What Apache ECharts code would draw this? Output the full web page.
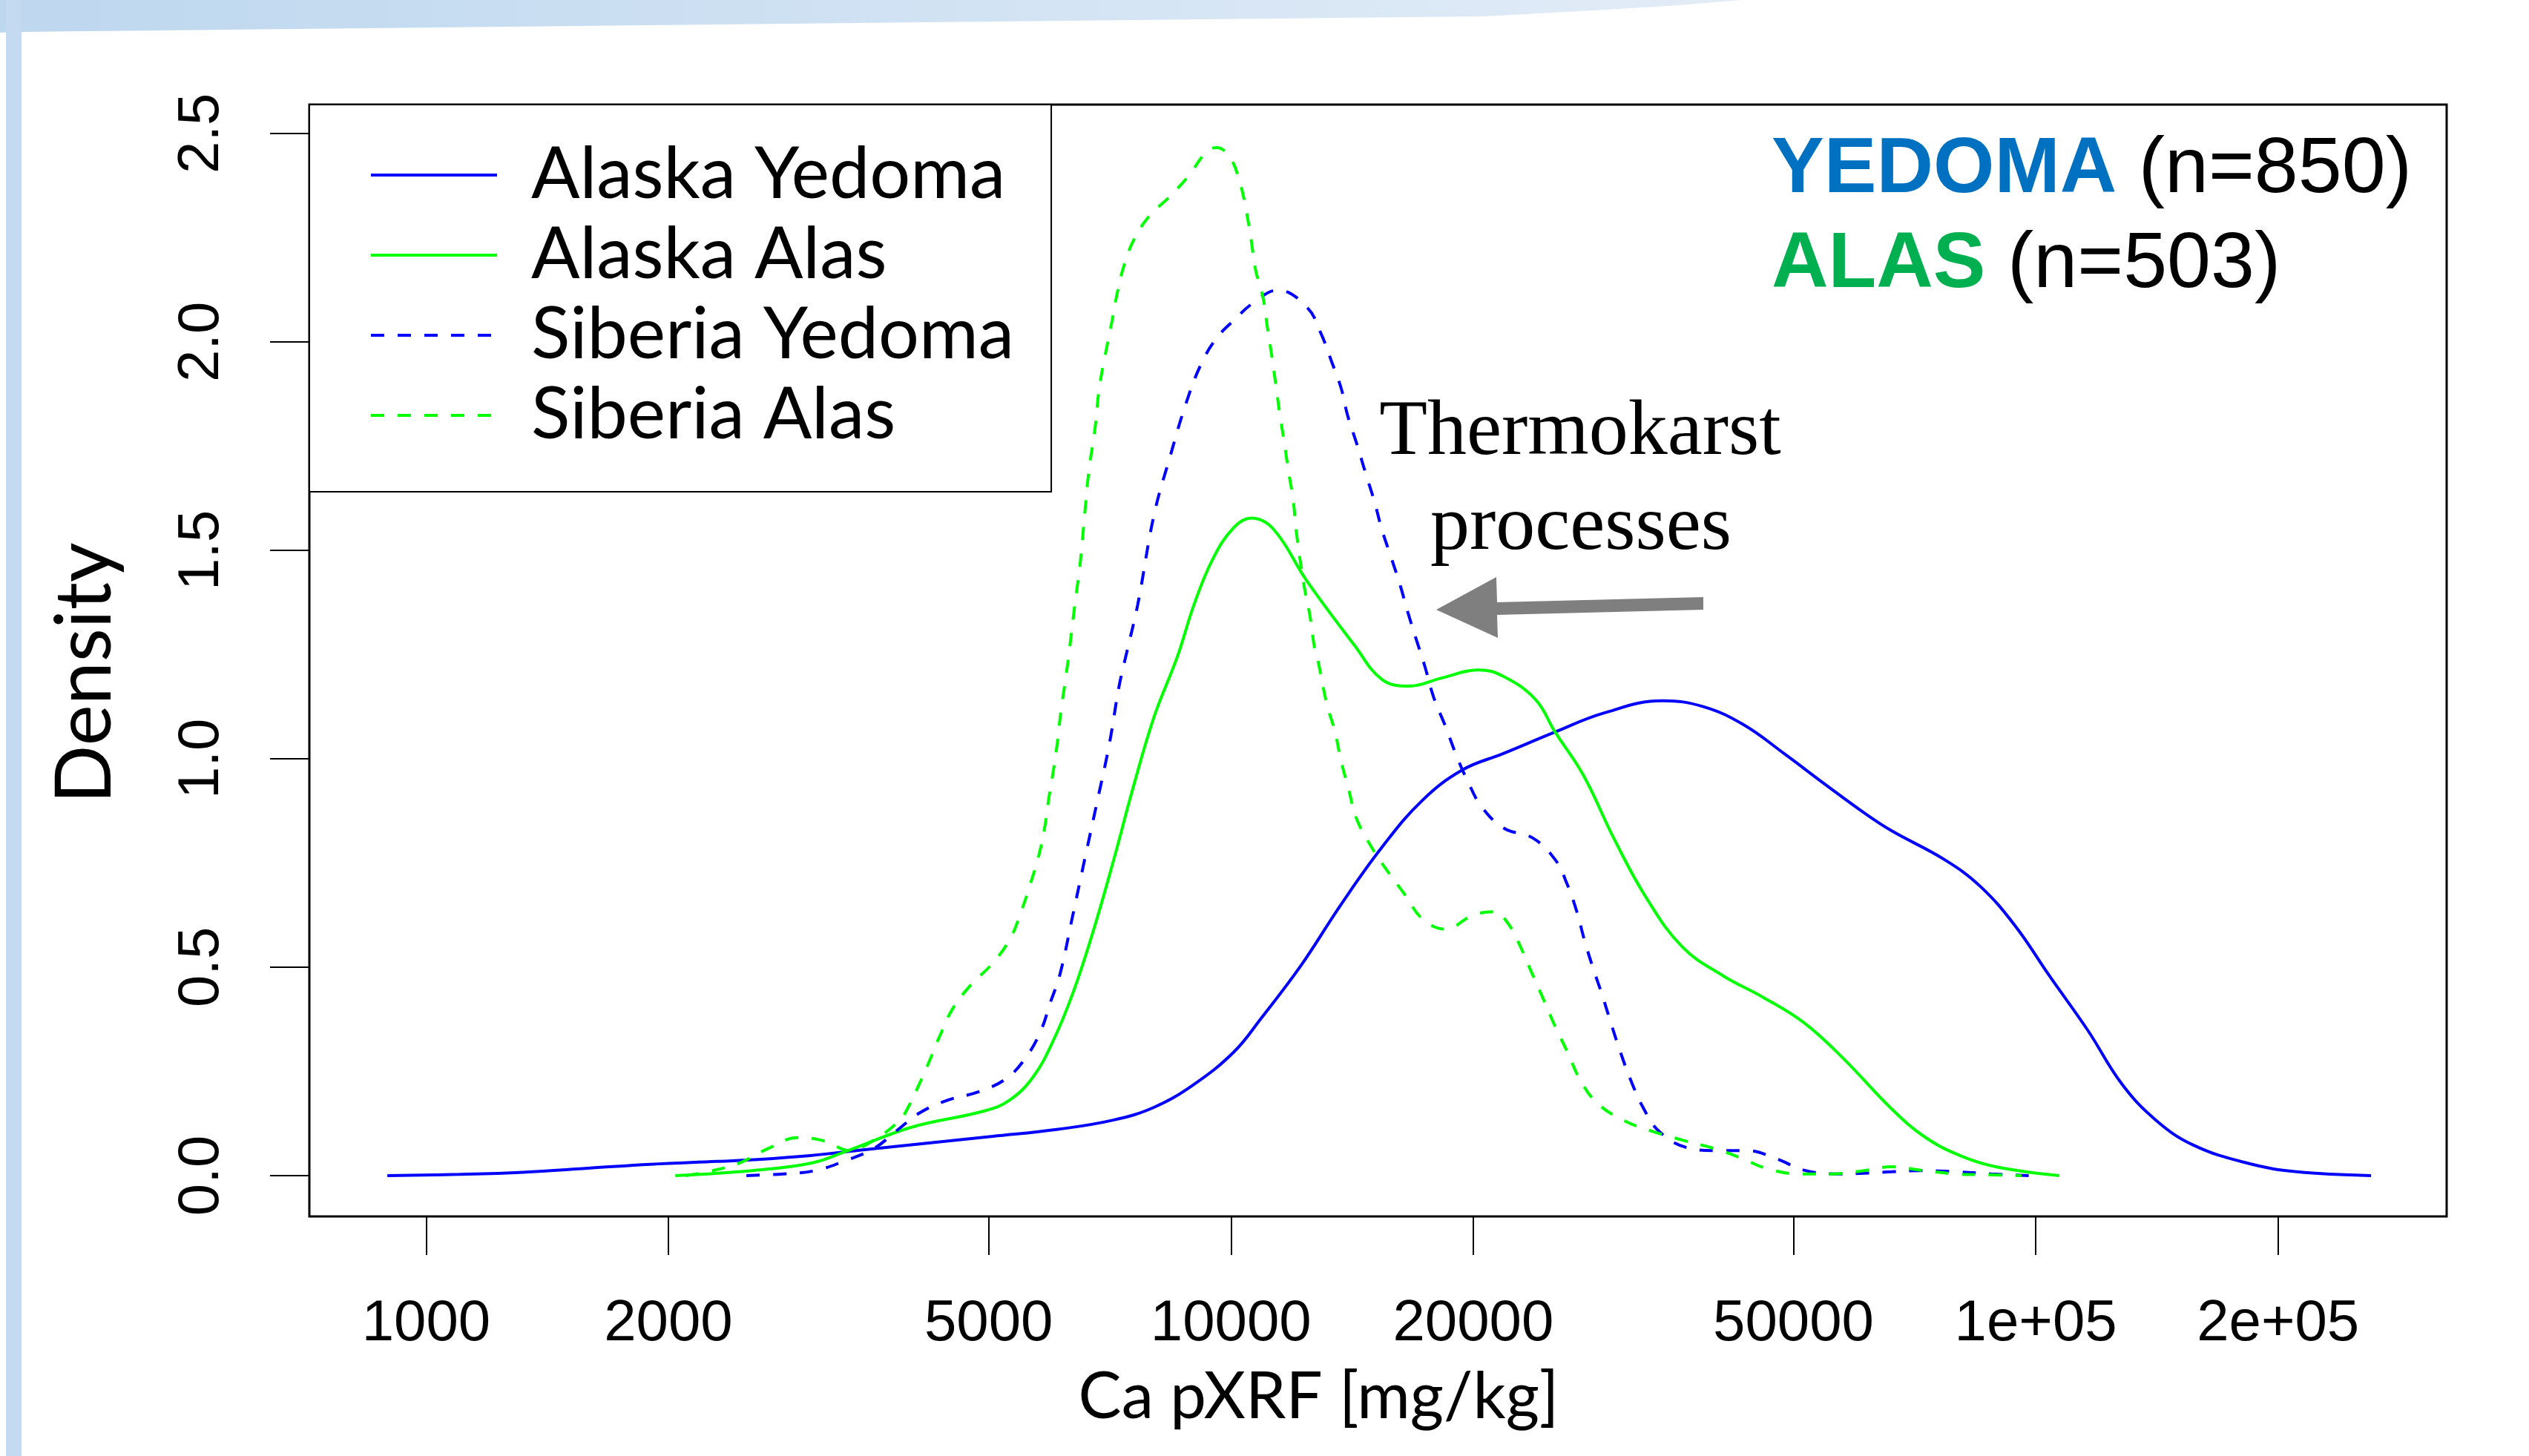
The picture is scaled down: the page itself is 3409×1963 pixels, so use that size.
<!DOCTYPE html>
<html>
<head>
<meta charset="utf-8">
<title>Ca pXRF density</title>
<script src="https://cdn.jsdelivr.net/npm/echarts@6/dist/echarts.min.js"></script>
<style>
  html, body { margin: 0; padding: 0; background: #fff; }
  #chart { width: 3409px; height: 1963px; }
</style>
</head>
<body>
<div id="chart"></div>
<script>
// curves, [Ca pXRF mg/kg, density]
var alaskaYedoma = [
  [895, 0], [1100, 0.003], [1320, 0.008], [1600, 0.018], [1900, 0.027], [2300, 0.034],
  [2550, 0.038], [3000, 0.048], [3580, 0.064], [4300, 0.080], [5060, 0.094], [6100, 0.111],
  [7140, 0.133], [8030, 0.164], [9000, 0.219], [10090, 0.297], [10900, 0.377], [12220, 0.504],
  [13710, 0.651], [15410, 0.788], [17290, 0.900], [19390, 0.973], [21770, 1.012], [25280, 1.064],
  [29000, 1.109], [34400, 1.139], [38600, 1.125], [43300, 1.082], [48700, 1.012], [54600, 0.940],
  [61200, 0.870], [66200, 0.827], [77000, 0.758], [85300, 0.694], [94200, 0.600], [104000, 0.479],
  [116000, 0.349], [128000, 0.219], [141000, 0.133], [157000, 0.073], [183000, 0.030],
  [211000, 0.009], [261000, 0]
];
var alaskaAlas = [
  [2040, 0], [2540, 0.012], [3013, 0.030], [3345, 0.060], [4010, 0.116], [4940, 0.155],
  [5310, 0.181], [5680, 0.237], [6013, 0.323], [6355, 0.435], [6733, 0.582], [7143, 0.754],
  [7550, 0.927], [8025, 1.10], [8580, 1.245], [9000, 1.37], [9500, 1.48], [10090, 1.555],
  [10600, 1.577], [11300, 1.55], [12420, 1.427], [14240, 1.272], [15410, 1.19], [16660, 1.174],
  [18300, 1.194], [20300, 1.213], [21770, 1.198], [23900, 1.142], [25280, 1.064], [27400, 0.961],
  [29960, 0.806], [32800, 0.667], [36400, 0.548], [40900, 0.479], [45900, 0.427], [51500, 0.367],
  [57800, 0.279], [66200, 0.160], [73000, 0.091], [81000, 0.046], [89800, 0.020], [107000, 0]
];
var siberiaYedoma = [
  [2500, 0], [2780, 0.004], [3046, 0.012], [3300, 0.034], [3600, 0.065], [3840, 0.107],
  [4110, 0.151], [4450, 0.181], [4860, 0.201], [5260, 0.233], [5570, 0.285], [5810, 0.349],
  [5960, 0.413], [6130, 0.482], [6355, 0.621], [6580, 0.758], [6820, 0.897], [7060, 1.034],
  [7260, 1.173], [7420, 1.254], [7660, 1.37], [8025, 1.585], [8400, 1.724], [8800, 1.854],
  [9190, 1.948], [9600, 2.009], [10090, 2.052], [10670, 2.094], [11440, 2.124], [12440, 2.082],
  [12950, 2.018], [13340, 1.952], [13710, 1.888], [13960, 1.824], [14340, 1.754], [14720, 1.681],
  [15080, 1.616], [15410, 1.548], [15820, 1.482], [16240, 1.414], [16600, 1.349], [17000, 1.285],
  [17400, 1.224], [17870, 1.146], [18470, 1.078], [19050, 1.009], [19710, 0.944], [20500, 0.884],
  [21850, 0.833], [23700, 0.810], [25280, 0.758], [26180, 0.698], [26900, 0.633], [27500, 0.564],
  [28200, 0.496], [28950, 0.431], [29700, 0.362], [30500, 0.294], [31400, 0.228], [32500, 0.164],
  [34000, 0.107], [36700, 0.068], [40000, 0.060], [43800, 0.060], [47800, 0.039], [51500, 0.013],
  [56500, 0.004], [62000, 0.006], [66200, 0.009], [72000, 0.012], [80000, 0.009], [88000, 0.004],
  [98000, 0]
];
var siberiaAlas = [
  [2100, 0], [2235, 0.009], [2450, 0.030], [2655, 0.064], [2898, 0.091], [3140, 0.082],
  [3350, 0.060], [3600, 0.085], [3880, 0.133], [3950, 0.155], [4070, 0.206], [4210, 0.270],
  [4350, 0.336], [4510, 0.400], [4750, 0.457], [5056, 0.509], [5320, 0.569], [5480, 0.630],
  [5630, 0.698], [5770, 0.767], [5870, 0.836], [5940, 0.906], [6020, 0.974], [6090, 1.043],
  [6150, 1.116], [6220, 1.181], [6290, 1.251], [6390, 1.361], [6500, 1.473], [6580, 1.585],
  [6660, 1.690], [6780, 1.794], [6860, 1.888], [6990, 1.975], [7120, 2.052], [7230, 2.121],
  [7370, 2.185], [7580, 2.246], [7920, 2.302], [8360, 2.345], [8850, 2.397], [9300, 2.453],
  [9600, 2.466], [9990, 2.44], [10270, 2.379], [10440, 2.318], [10600, 2.242], [10730, 2.173],
  [10970, 2.103], [11090, 2.039], [11240, 1.966], [11370, 1.897], [11500, 1.827], [11650, 1.758],
  [11800, 1.685], [11950, 1.621], [12050, 1.548], [12330, 1.414], [12530, 1.345], [12700, 1.267],
  [12850, 1.228], [13150, 1.133], [13470, 1.064], [13700, 0.996], [14000, 0.927], [14340, 0.854],
  [14950, 0.788], [15560, 0.737], [16420, 0.676], [17290, 0.616], [18470, 0.591], [20000, 0.625],
  [21260, 0.633], [21960, 0.612], [22700, 0.564], [23530, 0.496], [24400, 0.427], [25280, 0.358],
  [26180, 0.297], [27100, 0.233], [28440, 0.176], [30700, 0.133], [33300, 0.107], [36400, 0.085],
  [40000, 0.064], [42900, 0.043], [46500, 0.016], [50900, 0.004], [55800, 0.004], [61200, 0.012],
  [66200, 0.021], [72500, 0.012], [79400, 0.004], [87000, 0.002], [96000, 0]
];

var seriesNames = ['Alaska Yedoma', 'Alaska Alas', 'Siberia Yedoma', 'Siberia Alas'];
var xTickValues = [1000, 2000, 5000, 10000, 20000, 50000, 100000, 200000];
var xTickLabels = ['1000', '2000', '5000', '10000', '20000', '50000', '1e+05', '2e+05'];
var yTickValues = [0, 0.5, 1, 1.5, 2, 2.5];
var yTickLabels = ['0.0', '0.5', '1.0', '1.5', '2.0', '2.5'];

var BLUE = '#0000ff';
var GREEN = '#00ff00';

function nearestLabel(v, values, labels, useLog) {
  var best = 0, bestDist = Infinity;
  for (var i = 0; i < values.length; i++) {
    var d = useLog ? Math.abs(Math.log10(v) - Math.log10(values[i])) : Math.abs(v - values[i]);
    if (d < bestDist) { bestDist = d; best = i; }
  }
  return labels[best];
}

function makeSeries(name, data, color, dashed) {
  return {
    name: name,
    type: 'line',
    data: data,
    smooth: 0.4,
    symbol: 'none',
    lineStyle: { color: color, width: 4, type: dashed ? [18, 18] : 'solid' },
    itemStyle: { color: color }
  };
}

var chart = echarts.init(document.getElementById('chart'), null, { renderer: 'canvas' });

var bandGradient = new echarts.graphic.LinearGradient(0, 0, 1, 0, [
  { offset: 0, color: '#bdd7ee' },
  { offset: 1, color: '#e2ecf7' }
]);

var option = {
  animation: false,
  backgroundColor: '#fff',
  grid: {
    left: 417, right: 111, top: 141, bottom: 323,
    show: true, borderColor: '#000', borderWidth: 3,
    backgroundColor: 'transparent',
    outerBoundsMode: 'none'
  },
  legend: {
    orient: 'vertical',
    left: 417, top: 141,
    padding: [41, 50, 49, 81],
    itemWidth: 170, itemHeight: 14, itemGap: 0,
    backgroundColor: '#fff', borderColor: '#000', borderWidth: 2, borderRadius: 0,
    itemStyle: { opacity: 0 },
    lineStyle: { width: 4 },
    selectedMode: false,
    textStyle: {
      fontFamily: 'Lato', fontSize: 97, lineHeight: 108, color: '#000',
      padding: [0, 0, 0, 41]
    },
    data: seriesNames
  },
  xAxis: {
    type: 'log',
    logBase: 10,
    min: 716, max: 324000,
    axisLine: { show: false, onZero: false },
    splitLine: { show: false },
    minorTick: { show: false },
    axisTick: { show: true, length: 52, customValues: xTickValues, lineStyle: { color: '#000', width: 2 } },
    axisLabel: {
      customValues: xTickValues,
      margin: 106, fontSize: 78, fontFamily: 'Liberation Sans', color: '#000',
      formatter: function (v) {
        if (v < 100) v = Math.pow(10, v);
        return nearestLabel(v, xTickValues, xTickLabels, true);
      }
    },
    name: 'Ca pXRF [mg/kg]',
    nameLocation: 'middle',
    nameGap: 200,
    nameTextStyle: { fontFamily: 'Lato', fontSize: 87, color: '#000', padding: [0, 160, 0, 0] }
  },
  yAxis: {
    type: 'value',
    min: -0.098, max: 2.569,
    axisLine: { show: false, onZero: false },
    splitLine: { show: false },
    axisTick: { show: true, length: 53, customValues: yTickValues, lineStyle: { color: '#000', width: 2 } },
    axisLabel: {
      customValues: yTickValues,
      rotate: 90, margin: 106, fontSize: 78, fontFamily: 'Liberation Sans', color: '#000',
      formatter: function (v) { return nearestLabel(v, yTickValues, yTickLabels, false); }
    },
    name: 'Density',
    nameLocation: 'middle',
    nameGap: 250,
    nameTextStyle: { fontFamily: 'Lato', fontSize: 104, color: '#000', padding: [0, 34, 0, 0] }
  },
  series: [
    makeSeries(seriesNames[0], alaskaYedoma, BLUE, false),
    makeSeries(seriesNames[1], alaskaAlas, GREEN, false),
    makeSeries(seriesNames[2], siberiaYedoma, BLUE, true),
    makeSeries(seriesNames[3], siberiaAlas, GREEN, true)
  ],
  graphic: [
    // slide decoration: light blue band on top and strip on the left
    {
      type: 'polygon', silent: true, z: -10,
      shape: { points: [[0, 0], [2348, 0], [2250, 8], [2130, 15], [2000, 22], [28, 43], [0, 44]] },
      style: { fill: bandGradient }
    },
    {
      type: 'rect', silent: true, z: -10,
      shape: { x: 8, y: 0, width: 21, height: 1963 },
      style: { fill: '#c3daf0' }
    },
    // sample sizes
    {
      type: 'text', x: 2388, y: 230,
      style: {
        text: '{b|YEDOMA}{n| (n=850)}',
        verticalAlign: 'middle',
        rich: {
          b: { fontFamily: 'Liberation Sans', fontWeight: 'bold', fontSize: 106, fill: '#0070c0' },
          n: { fontFamily: 'Liberation Sans', fontSize: 106, fill: '#000' }
        }
      }
    },
    {
      type: 'text', x: 2388, y: 358,
      style: {
        text: '{b|ALAS}{n| (n=503)}',
        verticalAlign: 'middle',
        rich: {
          b: { fontFamily: 'Liberation Sans', fontWeight: 'bold', fontSize: 106, fill: '#00b050' },
          n: { fontFamily: 'Liberation Sans', fontSize: 106, fill: '#000' }
        }
      }
    },
    // annotation
    {
      type: 'text', x: 2130, y: 584,
      style: { text: 'Thermokarst', align: 'center', verticalAlign: 'middle',
        font: '106px "Liberation Serif"', fill: '#000' }
    },
    {
      type: 'text', x: 2131, y: 712,
      style: { text: 'processes', align: 'center', verticalAlign: 'middle',
        font: '106px "Liberation Serif"', fill: '#000' }
    },
    {
      type: 'polygon', silent: true,
      shape: { points: [[2296, 805], [2018, 812], [2017, 778], [1936, 822], [2019, 860], [2018, 829], [2296, 822]] },
      style: { fill: '#7f7f7f' }
    }
  ]
};

chart.setOption(option);
</script>
</body>
</html>
